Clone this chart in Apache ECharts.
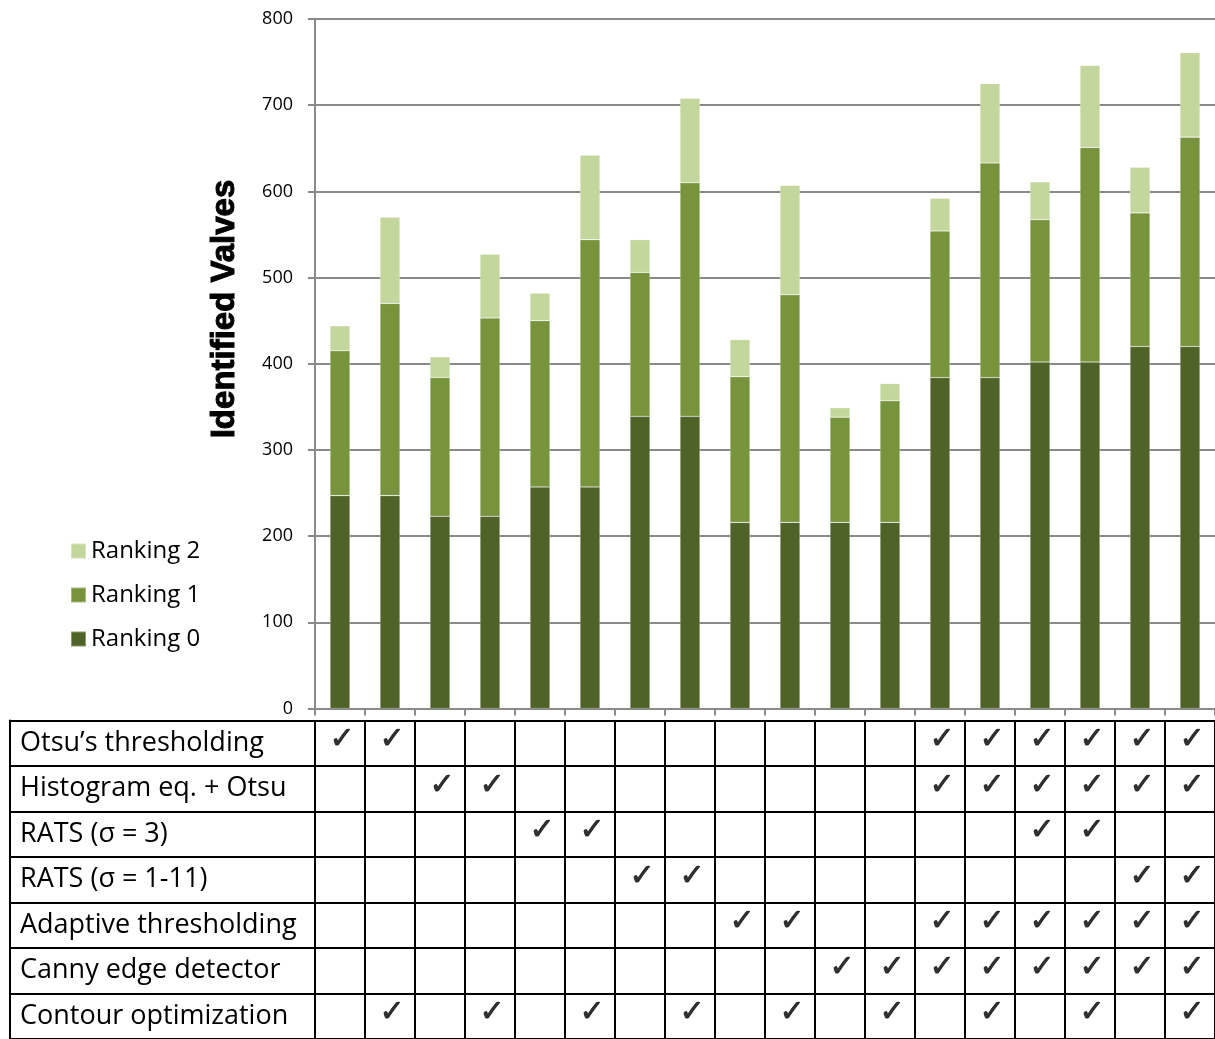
<!DOCTYPE html>
<html>
<head>
<meta charset="utf-8">
<title>Identified Valves</title>
<script src="https://cdn.jsdelivr.net/npm/echarts@6/dist/echarts.min.js"></script>
<style>
  html, body { margin: 0; padding: 0; background: #fff; }
  #chart { width: 1215px; height: 1039px; }
</style>
</head>
<body>
<div id="chart"></div>
<script>
// Pipeline configurations (one bar per column of the method table)
const configs = ['C1','C2','C3','C4','C5','C6','C7','C8','C9','C10','C11','C12','C13','C14','C15','C16','C17','C18'];

// Identified valves per ranking (stacked)
const ranking0 = [247, 247, 223, 223, 257, 257, 339, 339, 216, 216, 216, 216, 384, 384, 402, 402, 420, 420];
const ranking1 = [168, 223, 161, 230, 193, 287, 167, 271, 169, 264, 122, 141, 170, 249, 165, 249, 155, 243];
const ranking2 = [ 29, 100,  24,  74,  32,  98,  38,  98,  43, 127,  11,  20,  38,  92,  44,  95,  53,  98];

const seriesNames = ['Ranking 0', 'Ranking 1', 'Ranking 2'];
const yTicks = { min: 0, max: 800, step: 100 };

// Processing steps used by each configuration
const methods = [
  'Otsu’s thresholding',
  'Histogram eq. + Otsu',
  'RATS (σ = 3)',
  'RATS (σ = 1-11)',
  'Adaptive thresholding',
  'Canny edge detector',
  'Contour optimization'
];
const otsu      = [1,1,0,0,0,0,0,0,0,0,0,0,1,1,1,1,1,1];
const histOtsu  = [0,0,1,1,0,0,0,0,0,0,0,0,1,1,1,1,1,1];
const rats3     = [0,0,0,0,1,1,0,0,0,0,0,0,0,0,1,1,0,0];
const rats111   = [0,0,0,0,0,0,1,1,0,0,0,0,0,0,0,0,1,1];
const adaptive  = [0,0,0,0,0,0,0,0,1,1,0,0,1,1,1,1,1,1];
const canny     = [0,0,0,0,0,0,0,0,0,0,1,1,1,1,1,1,1,1];
const contour   = [0,1,0,1,0,1,0,1,0,1,0,1,0,1,0,1,0,1];
const checkRows = [otsu, histOtsu, rats3, rats111, adaptive, canny, contour];

const colors = ['#4F6228', '#77933C', '#C3D69B'];
const gridGray = '#8a8a8a';
const uiFont = '"Open Sans", "Noto Sans", sans-serif';

const checkPoints = [];
checkRows.forEach((row, r) => {
  row.forEach((v, c) => { if (v) checkPoints.push([c, r]); });
});

const chart = echarts.init(document.getElementById('chart'), null, { renderer: 'canvas' });

function barSeries(name, data, color) {
  return {
    name: name,
    type: 'bar',
    stack: 'valves',
    xAxisIndex: 0,
    yAxisIndex: 0,
    barWidth: '40%',
    itemStyle: { color: color, borderColor: 'rgba(255,255,255,0.35)', borderWidth: 0.6 },
    emphasis: { disabled: true },
    data: data
  };
}

chart.setOption({
  animation: false,
  backgroundColor: '#fff',
  textStyle: { fontFamily: uiFont },
  legend: {
    orient: 'vertical',
    left: 70,
    top: 536,
    padding: 0,
    itemWidth: 15,
    itemHeight: 15,
    itemGap: 14,
    icon: 'rect',
    textStyle: { fontSize: 24, color: '#000', fontFamily: uiFont, lineHeight: 30 },
    data: ['Ranking 2', 'Ranking 1', 'Ranking 0']
  },
  graphic: [{
    type: 'text',
    x: 225,
    y: 309,
    rotation: Math.PI / 2,
    style: {
      text: 'Identified Valves',
      font: 'bold 33px "Liberation Sans", Arial, sans-serif',
      fill: '#000',
      stroke: '#000',
      lineWidth: 1,
      align: 'center',
      verticalAlign: 'middle'
    }
  }],
  grid: [
    { left: 315, right: 0, top: 19, height: 689.5, containLabel: false },
    { left: 315, right: 0, top: 720.5, height: 322, containLabel: false }
  ],
  xAxis: [
    {
      type: 'category',
      gridIndex: 0,
      data: configs,
      axisLine: { lineStyle: { color: gridGray, width: 2 } },
      axisTick: { show: true, length: 7, interval: 0, lineStyle: { color: gridGray, width: 2 } },
      axisLabel: { show: false },
      splitLine: { show: false }
    },
    {
      type: 'category',
      gridIndex: 1,
      position: 'top',
      data: configs,
      axisLine: { show: true, lineStyle: { color: '#000', width: 2 } },
      axisTick: { show: false },
      axisLabel: { show: false },
      splitLine: { show: true, interval: 0, lineStyle: { color: '#000', width: 2 } }
    }
  ],
  yAxis: [
    {
      type: 'value',
      gridIndex: 0,
      min: yTicks.min,
      max: yTicks.max,
      interval: yTicks.step,
      axisLine: { show: true, lineStyle: { color: gridGray, width: 2 } },
      axisTick: { show: true, length: 7, lineStyle: { color: gridGray, width: 2 } },
      axisLabel: { margin: 22, fontSize: 18, color: '#000', fontFamily: uiFont },
      splitLine: { show: true, lineStyle: { color: gridGray, width: 2 } }
    },
    {
      type: 'category',
      gridIndex: 1,
      inverse: true,
      offset: 305,
      data: methods,
      axisLine: { show: true, lineStyle: { color: '#000', width: 2 } },
      axisTick: { show: true, inside: true, length: 305, interval: 0, lineStyle: { color: '#000', width: 2 } },
      axisLabel: { inside: true, margin: 10, interval: 0, fontSize: 27, color: '#000', fontFamily: uiFont, align: 'left' },
      splitLine: { show: true, interval: 0, lineStyle: { color: '#000', width: 2 } }
    }
  ],
  series: [
    barSeries(seriesNames[0], ranking0, colors[0]),
    barSeries(seriesNames[1], ranking1, colors[1]),
    barSeries(seriesNames[2], ranking2, colors[2]),
    {
      name: 'methods',
      type: 'scatter',
      xAxisIndex: 1,
      yAxisIndex: 1,
      symbolSize: 0,
      silent: true,
      label: {
        show: true,
        position: 'inside',
        offset: [2, -3],
        formatter: '✓',
        fontSize: 30,
        fontWeight: 'bold',
        color: '#000',
        textBorderColor: '#000',
        textBorderWidth: 0.8,
        fontFamily: '"DejaVu Sans", sans-serif'
      },
      data: checkPoints
    }
  ]
});
</script>
</body>
</html>
